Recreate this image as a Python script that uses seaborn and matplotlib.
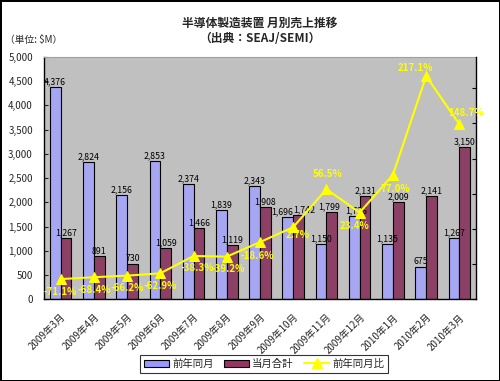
import numpy as np
import pandas as pd
import matplotlib
matplotlib.use("Agg")
import matplotlib.pyplot as plt
import seaborn as sns
from matplotlib.patches import Patch
from matplotlib.lines import Line2D
from matplotlib.ticker import FuncFormatter

# ==================== データ ====================
MONTHS = ["2009年3月", "2009年4月", "2009年5月", "2009年6月", "2009年7月",
          "2009年8月", "2009年9月", "2009年10月", "2009年11月", "2009年12月",
          "2010年1月", "2010年2月", "2010年3月"]
PREV_YEAR = [4376, 2824, 2156, 2853, 2374, 1839, 2343, 1696, 1150, 1726, 1135, 675, 1267]
THIS_MONTH = [1267, 891, 730, 1059, 1466, 1119, 1908, 1742, 1799, 2131, 2009, 2141, 3150]
YOY_PCT = [-71.1, -68.4, -66.2, -62.9, -38.3, -39.2, -18.6, 2.7, 56.5, 23.4, 77.0, 217.1, 148.7]
SERIES = ["前年同月", "当月合計", "前年同月比"]

TITLE = "半導体製造装置 月別売上推移"
SUBTITLE = "（出典：SEAJ/SEMI）"
UNIT = "（単位: \\$M）"

# ラベル位置のずらし量 (points)
PCT_OFFSETS = [(0, -9), (0, -9), (0, -9), (0, -9), (3, -9), (1, -9), (-2, -10),
               (3, -6), (1, 11), (-4, -10), (2, -10), (-8, 6), (5, 8)]
# 重なる棒ラベルを横にずらす (系列番号, 月番号) -> dx
BAR_LABEL_SHIFT = {(0, 7): -4, (1, 7): 4, (1, 8): -2, (0, 9): 1}

COL_PREV = "#9999FF"
COL_THIS = "#993366"
COL_LINE = "#FFFF00"

sns.set_style("white")
plt.rcParams["font.family"] = ["Noto Sans CJK JP", "DejaVu Sans"]

df = pd.DataFrame({"month": MONTHS * 2,
                   "value": PREV_YEAR + THIS_MONTH,
                   "series": [SERIES[0]] * len(MONTHS) + [SERIES[1]] * len(MONTHS)})

fig = plt.figure(figsize=(5.0, 3.81), dpi=100, facecolor="white",
                 edgecolor="black", linewidth=2)
ax = fig.add_axes([0.088, 0.214, 0.864, 0.637])
ax.set_facecolor("#C0C0C0")

sns.barplot(data=df, x="month", y="value", hue="series", order=MONTHS,
            palette=[COL_PREV, COL_THIS], width=0.65, gap=0,
            edgecolor="black", linewidth=0.8, legend=False, ax=ax)

for si, cont in enumerate(ax.containers):
    texts = ax.bar_label(cont, labels=[f"{v:,.0f}" for v in cont.datavalues],
                         fontsize=6.3, color="black", padding=0.5)
    for mi, t in enumerate(texts):
        dx = BAR_LABEL_SHIFT.get((si, mi), 0)
        if dx:
            t.xyann = (t.xyann[0] + dx, t.xyann[1])

ax.set_ylim(0, 5000)
ax.set_yticks(np.arange(0, 5001, 500))
ax.yaxis.set_major_formatter(FuncFormatter(lambda v, p: f"{v:,.0f}"))
ax.set_xlim(-0.5, len(MONTHS) - 0.5)
ax.set_xlabel("")
ax.set_ylabel("")
ax.set_xticks(range(len(MONTHS)))
ax.set_xticklabels(MONTHS, rotation=45, ha="right", rotation_mode="anchor", fontsize=7)
ax.set_xticks(np.arange(-0.5, len(MONTHS), 1), minor=True)
ax.tick_params(axis="x", which="major", length=0, pad=9)
ax.tick_params(axis="x", which="minor", direction="in", length=3, color="black")
ax.tick_params(axis="y", labelsize=7, direction="in", length=3, pad=8)

for s in ["left", "bottom"]:
    ax.spines[s].set_color("black")
    ax.spines[s].set_linewidth(1)
ax.spines["top"].set_color("#A0A0A0")
ax.spines["right"].set_visible(False)

# 前年同月比 (右軸)
ax2 = ax.twinx()
sns.lineplot(x=np.arange(len(MONTHS)), y=YOY_PCT, ax=ax2, color=COL_LINE,
             linewidth=1.5, marker="^", markersize=7, markeredgecolor=COL_LINE)
ax2.set_ylim(-100, 244.5)
ax2.set_yticks(np.arange(-100, 241, 50))
ax2.set_yticklabels([])
ax2.tick_params(axis="y", direction="in", length=3, color="black")
ax2.spines["right"].set_color("black")
ax2.spines["right"].set_linewidth(1)
for s in ["left", "bottom", "top"]:
    ax2.spines[s].set_visible(False)

for i, (v, off) in enumerate(zip(YOY_PCT, PCT_OFFSETS)):
    ax2.annotate(f"{v:.1f}%", (i, v), xytext=off, textcoords="offset points",
                 ha="center", va="center", fontsize=7, fontweight="bold",
                 color=COL_LINE)

fig.text(0.52, 0.94, TITLE, ha="center", va="center", fontsize=8.5, fontweight="bold")
fig.text(0.52, 0.9, SUBTITLE, ha="center", va="center", fontsize=8.5, fontweight="bold")
fig.text(0.01, 0.895, UNIT, ha="left", va="center", fontsize=7)

handles = [Patch(facecolor=COL_PREV, edgecolor="black", linewidth=0.8),
           Patch(facecolor=COL_THIS, edgecolor="black", linewidth=0.8),
           Line2D([0], [0], color=COL_LINE, linewidth=1.5, marker="^",
                  markersize=7, markeredgecolor=COL_LINE)]
leg = fig.legend(handles, SERIES, loc="center", bbox_to_anchor=(0.528, 0.045),
                 ncol=3, fontsize=7.5, frameon=True, fancybox=False,
                 edgecolor="black", handlelength=2.4, handleheight=0.6,
                 handletextpad=0.3, columnspacing=1.0, borderpad=0.35)
leg.get_frame().set_linewidth(0.8)

fig.savefig("out.png", dpi=100, facecolor="white", edgecolor="black")
